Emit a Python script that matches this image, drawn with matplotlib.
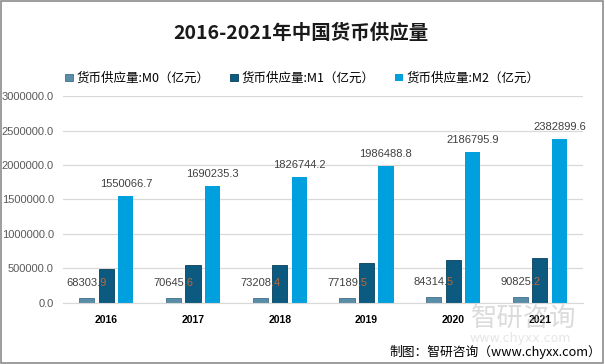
import matplotlib
matplotlib.use('Agg')
import matplotlib.pyplot as plt
from matplotlib.patches import Rectangle
import numpy as np

plt.rcParams['font.family'] = ['Noto Sans CJK SC', 'DejaVu Sans']

years = ['2016', '2017', '2018', '2019', '2020', '2021']
m0 = [68303.9, 70645.6, 73208.4, 77189.5, 84314.5, 90825.2]
m1 = [486557.2, 543790.2, 551685.9, 576009.2, 625581.0, 647443.4]
m2 = [1550066.7, 1690235.3, 1826744.2, 1986488.8, 2186795.9, 2382899.6]
names = ['货币供应量:M0（亿元）', '货币供应量:M1（亿元）', '货币供应量:M2（亿元）']

c0, c1, c2 = '#5a8ea8', '#0c5a80', '#00a0de'
num_font = 'Liberation Sans'

fig = plt.figure(figsize=(6.05, 3.64), dpi=100)
ax = fig.add_axes([0.104, 0.168, 0.86, 0.568])

x = np.arange(len(years))
off = 0.225
w = 0.175
ax.bar(x - off, m0, w, color=c0, edgecolor='#3f6f88', lw=0.6, label=names[0], zorder=2)
bars1 = ax.bar(x, m1, w, color=c1, edgecolor='#08405c', lw=0.6, label=names[1], zorder=2)
ax.bar(x + off, m2, w, color=c2, label=names[2], zorder=2)

for i in range(len(years)):
    ax.annotate('%.1f' % m0[i], (x[i] - off, m0[i]), xytext=(0, 7), textcoords='offset points',
                ha='center', va='bottom', fontsize=8, color='#404040', family=num_font, zorder=3)
    # part of the label that sits on the dark M1 bar shows in a warm tone
    over = ax.annotate('%.1f' % m0[i], (x[i] - off, m0[i]), xytext=(0, 7), textcoords='offset points',
                       ha='center', va='bottom', fontsize=8, color='#b0704a', family=num_font, zorder=4)
    over.set_clip_path(bars1[i])
    ax.annotate('%.1f' % m2[i], (x[i] + off, m2[i]), xytext=(0, 5), textcoords='offset points',
                ha='center', va='bottom', fontsize=8, color='#404040', family=num_font, zorder=3)

ax.set_xlim(-0.5, 5.5)
ax.set_ylim(0, 3000000)
ax.set_yticks(range(0, 3000001, 500000))
ax.yaxis.set_major_formatter(plt.FuncFormatter('{:.1f}'.format))
ax.set_xticks(x)
ax.set_xticklabels(years, fontsize=7.5, fontweight='bold', color='black', family=num_font)
for t in ax.get_yticklabels():
    t.set_fontsize(8)
    t.set_color('#595959')
    t.set_family(num_font)
ax.tick_params(axis='both', length=0)
ax.tick_params(axis='x', pad=9)
ax.tick_params(axis='y', pad=6.5)
ax.grid(True, axis='y', color='#d9d9d9', lw=0.9, zorder=0)
for s in ['top', 'right', 'left']:
    ax.spines[s].set_visible(False)
ax.spines['bottom'].set_color('#d9d9d9')

fig.text(0.497, 0.907, '2016-2021年中国货币供应量', ha='center', va='center',
         fontsize=14, fontweight='bold', color='#1a1a1a')

ax.legend(loc='lower left', bbox_to_anchor=(-0.005, 1.03), ncol=3, frameon=False,
          fontsize=9, handlelength=0.6, handleheight=0.6, handletextpad=0.3,
          columnspacing=1.65, borderaxespad=0)

# watermark
fig.text(0.865, 0.125, '智研咨询', ha='center', va='center', fontsize=19,
         color='#b0b0b0', alpha=0.45, zorder=0)
fig.text(0.86, 0.07, 'www.chyxx.com', ha='center', va='center', fontsize=9,
         color='#c8c8c8', alpha=0.45, zorder=0, family='DejaVu Sans')

fig.text(0.993, 0.032, '制图：智研咨询（www.chyxx.com）', ha='right', va='center',
         fontsize=9.2, color='black')

fig.add_artist(Rectangle((0.002, 0.003), 0.995, 0.994, transform=fig.transFigure,
                         fill=False, edgecolor='#8c8c8c', lw=1.2))

fig.savefig('out.png', dpi=100)
